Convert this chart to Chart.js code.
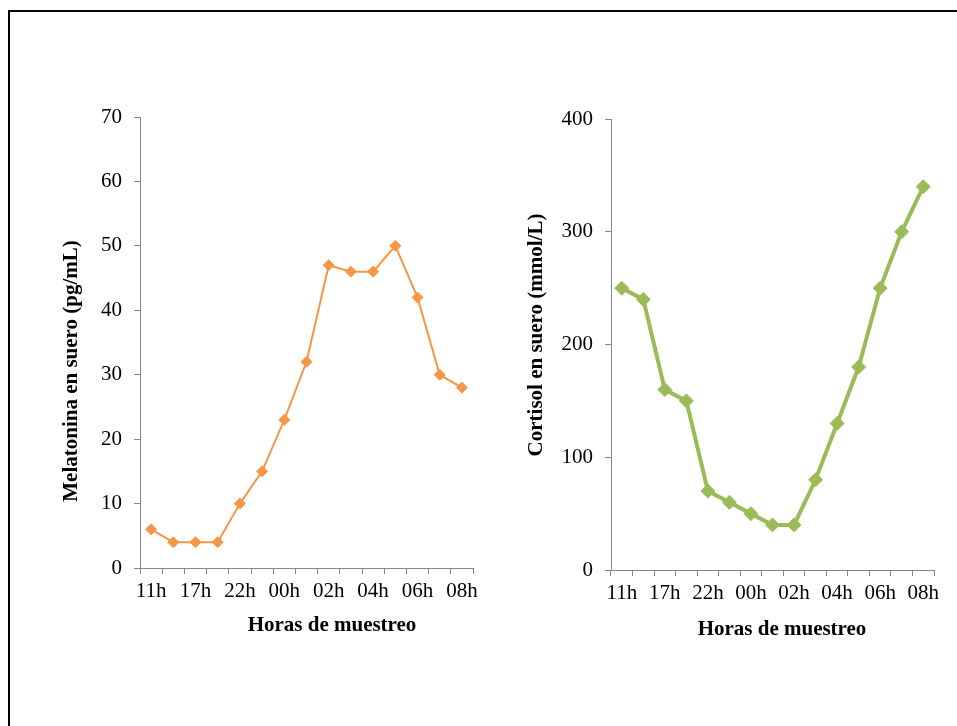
<!DOCTYPE html>
<html>
<head>
<meta charset="utf-8">
<script src="https://cdn.jsdelivr.net/npm/chart.js@4/dist/chart.umd.min.js"></script>
<style>
  html, body { margin: 0; padding: 0; background: #fff; }
  body { width: 957px; height: 726px; position: relative; overflow: hidden; }
  #frame { position: absolute; left: 8px; top: 10px; width: 960px; height: 730px;
           border-top: 2px solid #000; border-left: 2px solid #000; }
  .box { position: absolute; top: 0; height: 726px; }
  #left { left: 0; width: 490px; }
  #right { left: 490px; width: 467px; }
</style>
</head>
<body>
<div id="frame"></div>
<div class="box" id="left"><canvas id="melChart"></canvas></div>
<div class="box" id="right"><canvas id="cortChart"></canvas></div>
<script>
// datos
const categories = ['11h', '14h', '17h', '20h', '22h', '23h', '00h', '01h', '02h', '03h', '04h', '05h', '06h', '07h', '08h'];
const melatonina = [6, 4, 4, 4, 10, 15, 23, 32, 47, 46, 46, 50, 42, 30, 28];
const cortisol = [250, 240, 160, 150, 70, 60, 50, 40, 40, 80, 130, 180, 250, 300, 340];

const xTitle = 'Horas de muestreo';
const melTitle = 'Melatonina en suero (pg/mL)';
const cortTitle = 'Cortisol en suero (mmol/L)';

const tickFont = { family: '"Liberation Serif", "Times New Roman", serif', size: 21 };
const axisGray = '#868686';

// titulos de ejes dibujados a mano para poder colocarlos como en el original
const axisTitles = {
	id: 'axisTitles',
	afterDraw(chart, args, opts) {
		const ctx = chart.ctx;
		ctx.save();
		ctx.fillStyle = '#000';
		ctx.font = 'bold 21px "Liberation Serif", "Times New Roman", serif';
		ctx.textAlign = 'center';
		ctx.textBaseline = 'middle';
		ctx.fillText(opts.x.text, opts.x.cx, opts.x.cy);
		ctx.translate(opts.y.cx, opts.y.cy);
		ctx.rotate(-Math.PI / 2);
		ctx.fillText(opts.y.text, 0, 0);
		ctx.restore();
	}
};

function makeChart(id, values, color, lineW, radius, yMax, yStep, yWidth, pad, titles) {
	return new Chart(document.getElementById(id), {
		type: 'line',
		data: {
			labels: categories,
			datasets: [{
				data: values,
				borderColor: color,
				backgroundColor: color,
				borderWidth: lineW,
				pointStyle: 'rectRot',
				pointRadius: radius,
				pointHoverRadius: radius,
				pointBorderWidth: 1,
				tension: 0
			}]
		},
		options: {
			responsive: true,
			maintainAspectRatio: false,
			animation: false,
			layout: { padding: pad },
			plugins: {
				legend: { display: false },
				tooltip: { enabled: false },
				axisTitles: titles
			},
			scales: {
				x: {
					offset: true,
					grid: { offset: true, drawOnChartArea: false, tickLength: 6, color: axisGray },
					border: { color: axisGray },
					ticks: {
						autoSkip: false, maxRotation: 0, padding: 5, font: tickFont, color: '#000',
						callback: (v, i) => i % 2 === 0 ? categories[i] : ''
					},
					afterFit: s => { s.height = 60; }
				},
				y: {
					min: 0, max: yMax,
					grid: { drawOnChartArea: false, tickLength: 6, color: axisGray },
					border: { color: axisGray },
					ticks: { stepSize: yStep, padding: 12, font: tickFont, color: '#000' },
					afterFit: s => { s.width = yWidth; }
				}
			}
		},
		plugins: [axisTitles]
	});
}

makeChart('melChart', melatonina, '#F79646', 2, 5.5, 70, 10, 140,
	{ left: 0, top: 117, right: 17, bottom: 98 },
	{ x: { text: xTitle, cx: 332, cy: 626 }, y: { text: melTitle, cx: 72, cy: 371 } });

makeChart('cortChart', cortisol, '#9BBB59', 4, 7, 400, 100, 121,
	{ left: 0, top: 119, right: 23, bottom: 96 },
	{ x: { text: xTitle, cx: 292, cy: 630 }, y: { text: cortTitle, cx: 47, cy: 335 } });
</script>
</body>
</html>
